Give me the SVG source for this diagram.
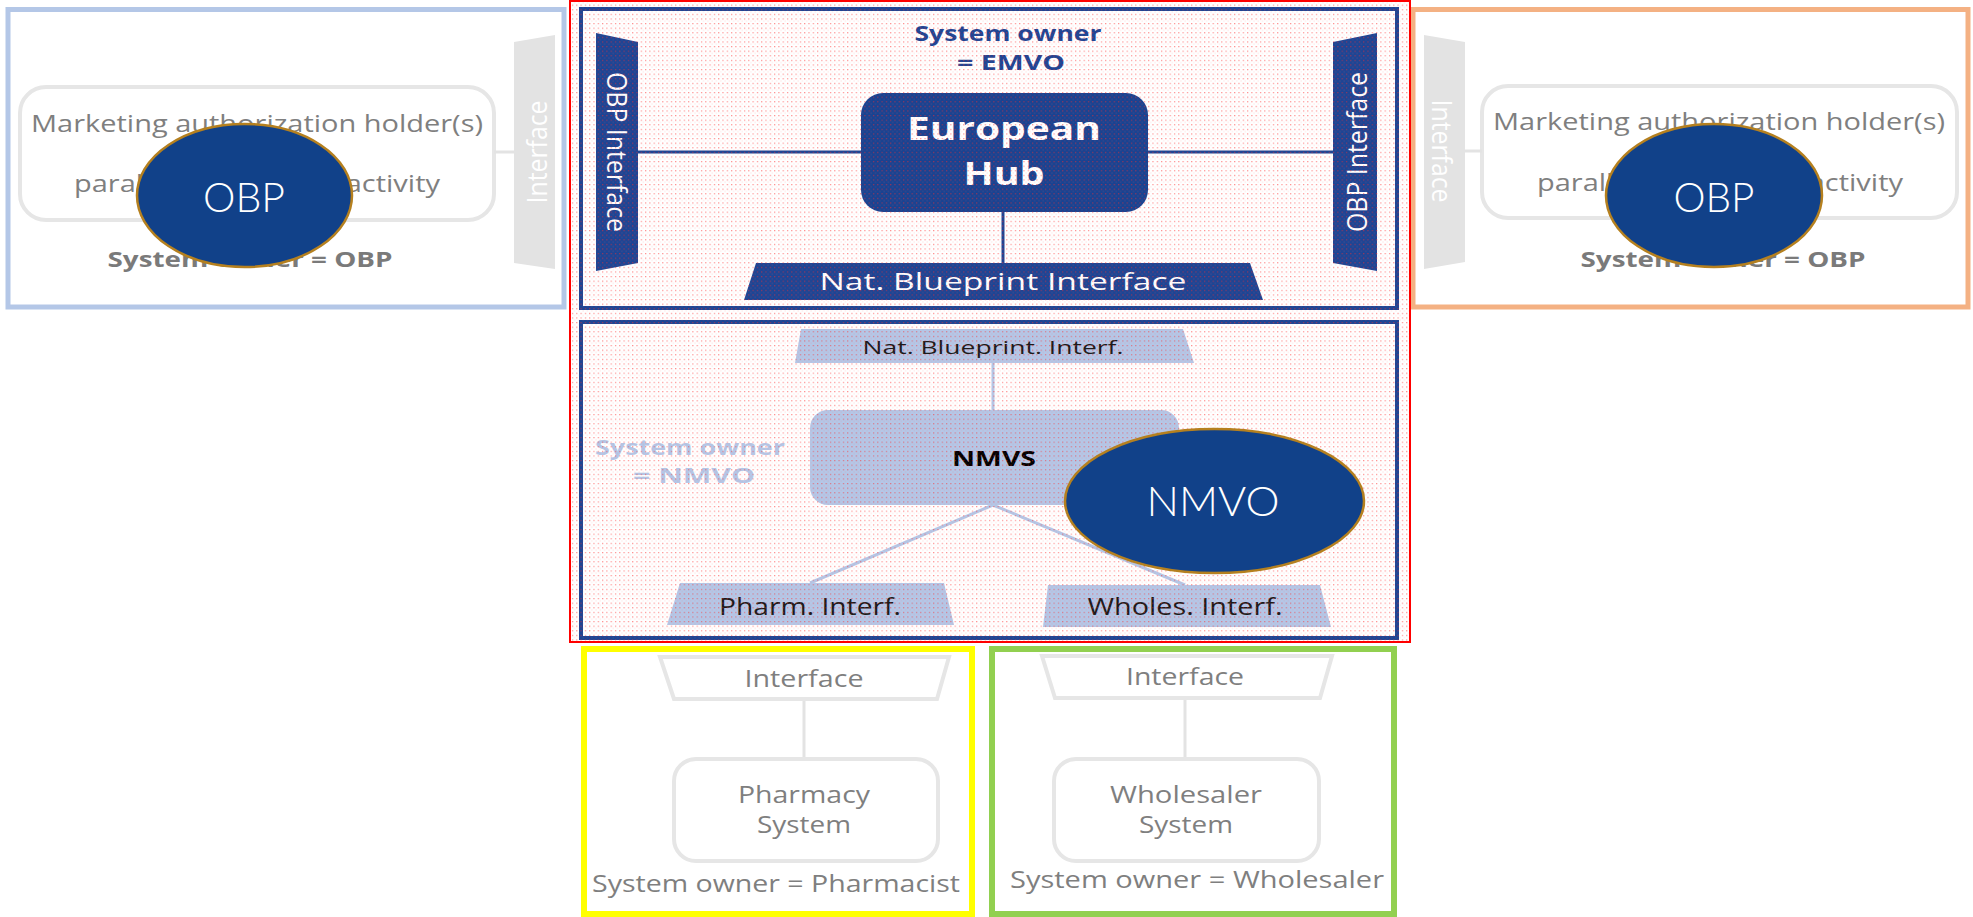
<svg xmlns="http://www.w3.org/2000/svg" width="1973" height="917" viewBox="0 0 1973 917">
  <defs>
    <pattern id="dots" width="4.3" height="4.6" patternUnits="userSpaceOnUse">
      <rect x="0" y="0" width="1.2" height="1.2" fill="#ff2a2a" opacity="0.55"/>
      <rect x="2.15" y="2.3" width="1" height="1" fill="#ff6060" opacity="0.25"/>
    </pattern>
    <style>
      .g { font-family: "Open Sans", "Liberation Sans", sans-serif; fill: #7f7f7f; text-anchor: middle; }
      .gb { font-family: "Open Sans", "Liberation Sans", sans-serif; fill: #7a7a7a; font-weight: bold; text-anchor: middle; }
      .w { font-family: "Open Sans", "Liberation Sans", sans-serif; fill: #ffffff; text-anchor: middle; }
      .d { font-family: "Open Sans", "Liberation Sans", sans-serif; fill: #1a1a1a; text-anchor: middle; }
      .nb { font-family: "Open Sans", "Liberation Sans", sans-serif; font-weight: bold; text-anchor: middle; }
      .ell { fill: #114189; stroke: #b5801f; stroke-width: 2.5; }
      .ellt { font-family: "Lato", "Open Sans", sans-serif; font-weight: 300; fill: #ffffff; text-anchor: middle; font-size: 42px; }
      .grayBox { fill: #ffffff; stroke: #e6e6e6; stroke-width: 4; }
      .grayTrap { fill: #e3e3e3; }
      .grayLine { stroke: #e3e3e3; stroke-width: 3; fill: none; }
      .navy { fill: #1e4594; }
      .navyLine { stroke: #1e4594; stroke-width: 3; fill: none; }
      .lb { fill: #b4c7e7; }
      .lbLine { stroke: #b4c7e7; stroke-width: 3; fill: none; }
    </style>
  </defs>
  <rect x="0" y="0" width="1973" height="917" fill="#ffffff"/>

  <!-- Left OBP system -->
  <g id="obp-left">
    <rect x="8" y="9.5" width="556" height="297.5" fill="none" stroke="#b4c7e7" stroke-width="5"/>
    <rect class="grayBox" x="20" y="87" width="474" height="133" rx="26"/>
    <text class="g" x="257" y="132" font-size="24" textLength="452" lengthAdjust="spacingAndGlyphs">Marketing authorization holder(s)</text>
    <text class="g" x="257" y="192" font-size="24" textLength="366" lengthAdjust="spacingAndGlyphs">parallel distribution activity</text>
    <text class="gb" x="250" y="267" font-size="21" textLength="285" lengthAdjust="spacingAndGlyphs">System owner = OBP</text>
    <polygon class="grayTrap" points="514,42 555,35 555,269 514,263"/>
    <text class="w" transform="translate(536,152) rotate(-90)" dominant-baseline="central" font-size="28" textLength="103" lengthAdjust="spacingAndGlyphs">Interface</text>
  </g>

  <!-- Right OBP system -->
  <g id="obp-right">
    <rect x="1413" y="9.5" width="555" height="297.5" fill="none" stroke="#f4b183" stroke-width="5"/>
    <rect class="grayBox" x="1482" y="86" width="475" height="132" rx="26"/>
    <text class="g" x="1719" y="130" font-size="24" textLength="452" lengthAdjust="spacingAndGlyphs">Marketing authorization holder(s)</text>
    <text class="g" x="1720" y="191" font-size="24" textLength="366" lengthAdjust="spacingAndGlyphs">parallel distribution activity</text>
    <text class="gb" x="1723" y="267" font-size="21" textLength="285" lengthAdjust="spacingAndGlyphs">System owner = OBP</text>
    <polygon class="grayTrap" points="1424,35 1465,42 1465,262 1424,269"/>
    <text class="w" transform="translate(1443,151) rotate(90)" dominant-baseline="central" font-size="28" textLength="103" lengthAdjust="spacingAndGlyphs">Interface</text>
  </g>

  <!-- EMVO European Hub box -->
  <g id="emvo">
    <rect x="581" y="9" width="816" height="299" fill="none" stroke="#1e4594" stroke-width="4"/>
    <text class="nb" x="1008" y="41" font-size="21" fill="#1e4594" textLength="187" lengthAdjust="spacingAndGlyphs">System owner</text>
    <text class="nb" x="1011" y="70" font-size="21" fill="#1e4594" textLength="108" lengthAdjust="spacingAndGlyphs">= EMVO</text>
  </g>
  <g id="obp-interface-left">
    <polygon class="navy" points="596,33 638,42 638,263 596,271"/>
    <text class="w" transform="translate(617,152) rotate(90)" dominant-baseline="central" font-size="27" textLength="160" lengthAdjust="spacingAndGlyphs">OBP Interface</text>
  </g>
  <g id="obp-interface-right">
    <polygon class="navy" points="1333,42 1377,33 1377,271 1333,263"/>
    <text class="w" transform="translate(1356,152) rotate(-90)" dominant-baseline="central" font-size="27" textLength="160" lengthAdjust="spacingAndGlyphs">OBP Interface</text>
  </g>
  <g id="european-hub">
    <rect x="861" y="93" width="287" height="119" rx="22" fill="#1a4391"/>
    <text class="w" x="1004" y="140" font-size="32" font-weight="bold" textLength="194" lengthAdjust="spacingAndGlyphs">European</text>
    <text class="w" x="1004" y="185" font-size="32" font-weight="bold" textLength="81" lengthAdjust="spacingAndGlyphs">Hub</text>
  </g>
  <g id="nat-blueprint-interface">
    <polygon class="navy" points="756,263 1250,263 1263,300 744,300"/>
    <text class="w" x="1003" y="290" font-size="24" textLength="367" lengthAdjust="spacingAndGlyphs">Nat. Blueprint Interface</text>
  </g>

  <!-- NMVS box -->
  <g id="nmvo-system">
    <rect x="581" y="322" width="816" height="316" fill="none" stroke="#1e4594" stroke-width="4"/>
    <text class="nb" x="690" y="455" font-size="21" fill="#b4c7e7" textLength="190" lengthAdjust="spacingAndGlyphs">System owner</text>
    <text class="nb" x="694" y="483" font-size="21" fill="#b4c7e7" textLength="122" lengthAdjust="spacingAndGlyphs">=  NMVO</text>
  </g>
  <g id="nat-blueprint-interf">
    <polygon class="lb" points="801,329 1183,329 1194,363 795,363"/>
    <text class="d" x="993" y="354" font-size="19" textLength="261" lengthAdjust="spacingAndGlyphs">Nat. Blueprint. Interf.</text>
  </g>
  <g id="nmvs">
    <rect x="810" y="410" width="369" height="95" rx="18" fill="#b4c7e7"/>
    <text class="nb" x="994" y="466" font-size="22" fill="#000000" textLength="84" lengthAdjust="spacingAndGlyphs">NMVS</text>
  </g>
  <g id="pharm-interf">
    <polygon class="lb" points="680,583 944,583 954,625 667,625"/>
    <text class="d" x="810" y="615" font-size="23" textLength="182" lengthAdjust="spacingAndGlyphs">Pharm. Interf.</text>
  </g>
  <g id="wholes-interf">
    <polygon class="lb" points="1048,585 1320,585 1331,627 1043,627"/>
    <text class="d" x="1185" y="615" font-size="23" textLength="195" lengthAdjust="spacingAndGlyphs">Wholes. Interf.</text>
  </g>

  <!-- Connectors -->
  <g id="connectors">
    <line class="grayLine" x1="494" y1="152" x2="514" y2="152"/>
    <line class="grayLine" x1="1465" y1="151" x2="1482" y2="151"/>
    <line class="navyLine" x1="638" y1="152" x2="861" y2="152"/>
    <line class="navyLine" x1="1148" y1="152" x2="1333" y2="152"/>
    <line class="navyLine" x1="1003" y1="212" x2="1003" y2="263"/>
    <line class="lbLine" x1="993" y1="363" x2="993" y2="410"/>
    <line class="lbLine" x1="993" y1="505" x2="810" y2="583"/>
    <line class="lbLine" x1="993" y1="505" x2="1185" y2="585"/>
    <line class="grayLine" x1="804" y1="699" x2="804" y2="759"/>
    <line class="grayLine" x1="1185" y1="698" x2="1185" y2="759"/>
  </g>

  <!-- dotted overlay of red region -->
  <rect x="571" y="1" width="838" height="640" fill="url(#dots)"/>

  <!-- Owner ellipses -->
  <g id="obp-ellipse-left">
    <ellipse class="ell" cx="244.5" cy="195.5" rx="107.5" ry="71.5"/>
    <text class="ellt" x="244" y="212" textLength="82" lengthAdjust="spacingAndGlyphs">OBP</text>
  </g>
  <g id="obp-ellipse-right">
    <ellipse class="ell" cx="1714" cy="195.5" rx="108" ry="71.5"/>
    <text class="ellt" x="1714" y="212" textLength="81" lengthAdjust="spacingAndGlyphs">OBP</text>
  </g>
  <g id="nmvo-ellipse">
    <ellipse class="ell" cx="1214.5" cy="501" rx="149.5" ry="72"/>
    <text class="ellt" x="1213" y="516" textLength="133" lengthAdjust="spacingAndGlyphs">NMVO</text>
  </g>

  <g id="red-frame">
    <rect x="570" y="1" width="840" height="641" fill="none" stroke="#ff0000" stroke-width="2"/>
  </g>

  <!-- Pharmacy system -->
  <g id="pharmacy">
    <rect x="584" y="649" width="388" height="265" fill="none" stroke="#ffff00" stroke-width="6"/>
    <polygon points="660,657 949,657 937,699 674,699" fill="#ffffff" stroke="#e6e6e6" stroke-width="4"/>
    <text class="g" x="804" y="687" font-size="23" textLength="119" lengthAdjust="spacingAndGlyphs">Interface</text>
    <rect class="grayBox" x="674" y="759" width="264" height="102" rx="22"/>
    <text class="g" x="804" y="803" font-size="23" textLength="132" lengthAdjust="spacingAndGlyphs">Pharmacy</text>
    <text class="g" x="804" y="833" font-size="23" textLength="94" lengthAdjust="spacingAndGlyphs">System</text>
    <text class="g" x="776" y="892" font-size="24" textLength="368" lengthAdjust="spacingAndGlyphs">System owner = Pharmacist</text>
  </g>

  <!-- Wholesaler system -->
  <g id="wholesaler">
    <rect x="992" y="649" width="402" height="265" fill="none" stroke="#92d050" stroke-width="6"/>
    <polygon points="1042,656 1332,656 1320,698 1055,698" fill="#ffffff" stroke="#e6e6e6" stroke-width="4"/>
    <text class="g" x="1185" y="685" font-size="23" textLength="118" lengthAdjust="spacingAndGlyphs">Interface</text>
    <rect class="grayBox" x="1054" y="759" width="265" height="102" rx="22"/>
    <text class="g" x="1186" y="803" font-size="23" textLength="152" lengthAdjust="spacingAndGlyphs">Wholesaler</text>
    <text class="g" x="1186" y="833" font-size="23" textLength="94" lengthAdjust="spacingAndGlyphs">System</text>
    <text class="g" x="1197" y="888" font-size="24" textLength="374" lengthAdjust="spacingAndGlyphs">System owner = Wholesaler</text>
  </g>
</svg>
